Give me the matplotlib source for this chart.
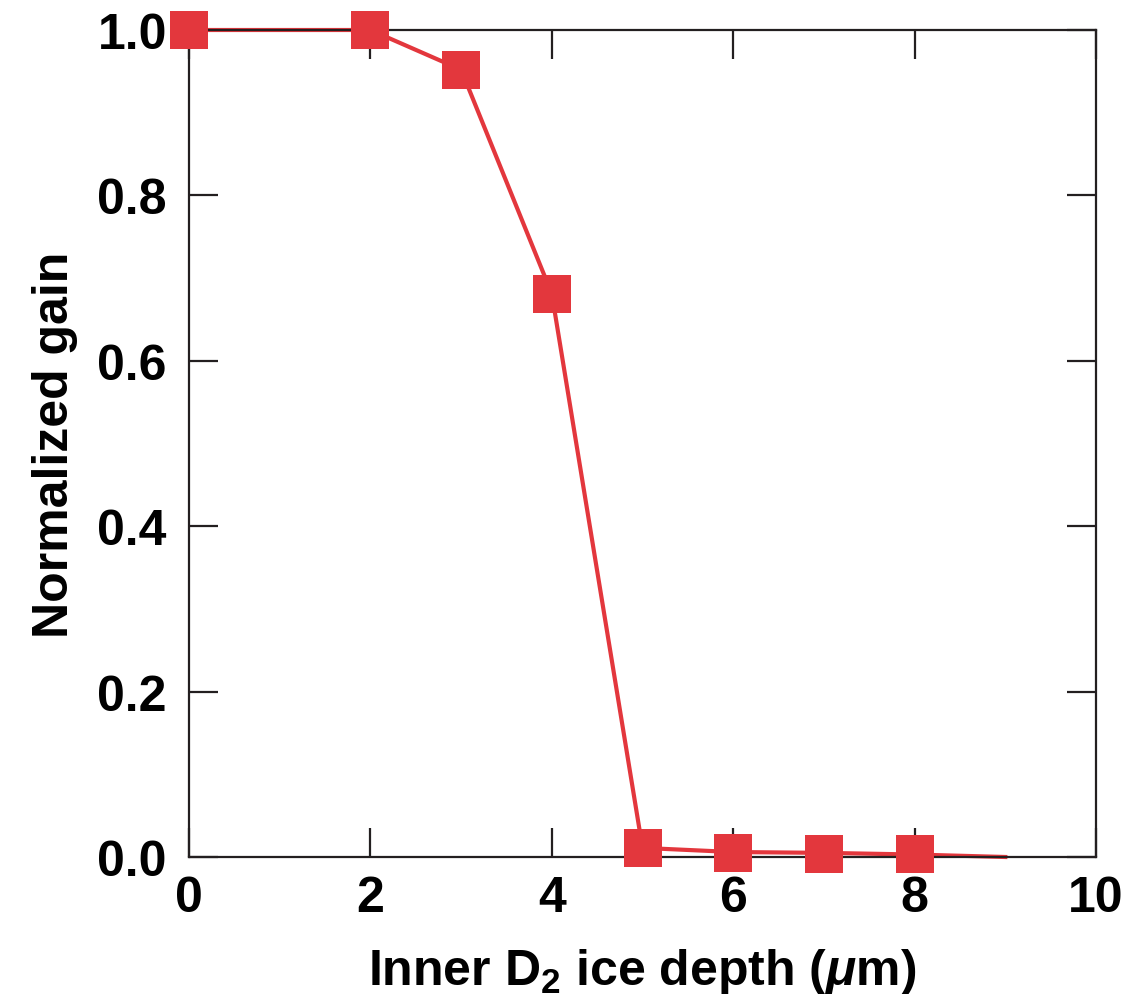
import matplotlib
matplotlib.use("Agg")
import matplotlib.pyplot as plt

# ── data ──────────────────────────────────────────────────────────────────────
depth_marked = [0, 2, 3, 4, 5, 6, 7, 8]
gain_marked  = [1.0, 1.0, 0.952, 0.681, 0.011, 0.005, 0.004, 0.004]
depth_line   = [0, 2, 3, 4, 5, 6, 7, 8, 9]
gain_line    = [1.0, 1.0, 0.952, 0.681, 0.011, 0.006, 0.005, 0.003, 0.0]

x_ticks = [0, 2, 4, 6, 8, 10]
y_ticks = [0.0, 0.2, 0.4, 0.6, 0.8, 1.0]

RED   = "#E3373D"
FRAME = "#231F20"

plt.rcParams["font.family"] = ["Liberation Sans", "DejaVu Sans"]
plt.rcParams["font.weight"] = "bold"
plt.rcParams["mathtext.fontset"] = "custom"
plt.rcParams["mathtext.rm"] = "Liberation Sans:bold"
plt.rcParams["mathtext.bf"] = "Liberation Sans:bold"
plt.rcParams["mathtext.it"] = "Liberation Sans:italic:bold"

fig = plt.figure(figsize=(11.35, 9.95), dpi=100)
ax = fig.add_axes([189 / 1135, 1 - 858 / 995, (1096 - 189) / 1135, (858 - 31) / 995])

ax.plot(depth_line, gain_line, color=RED, linewidth=3, zorder=2, clip_on=False)
ax.plot(depth_marked, gain_marked, linestyle="none", marker="s", markersize=27,
        color=RED, markeredgewidth=0, zorder=3, clip_on=False)

ax.set_xlim(0, 10)
ax.set_ylim(0, 1)
ax.set_xticks(x_ticks)
ax.set_yticks(y_ticks)
ax.set_xticklabels([str(v) for v in x_ticks])
ax.set_yticklabels([f"{v:.1f}" for v in y_ticks])

for side in ax.spines.values():
    side.set_linewidth(1.6)
    side.set_color(FRAME)

ax.tick_params(direction="in", length=21, width=1.6, color=FRAME,
               top=True, right=True, labelsize=36)
ax.tick_params(axis="x", pad=13)
ax.tick_params(axis="y", pad=16)
for lab in ax.get_xticklabels() + ax.get_yticklabels():
    lab.set_fontweight("bold")

ax.set_xlabel(r"Inner D$_\mathregular{2}$ ice depth ($\mathit{\mu}$m)",
              fontsize=36, fontweight="bold", labelpad=18)
ax.set_ylabel("Normalized gain", fontsize=36, fontweight="bold", labelpad=14)

fig.savefig("out.png", dpi=100)
